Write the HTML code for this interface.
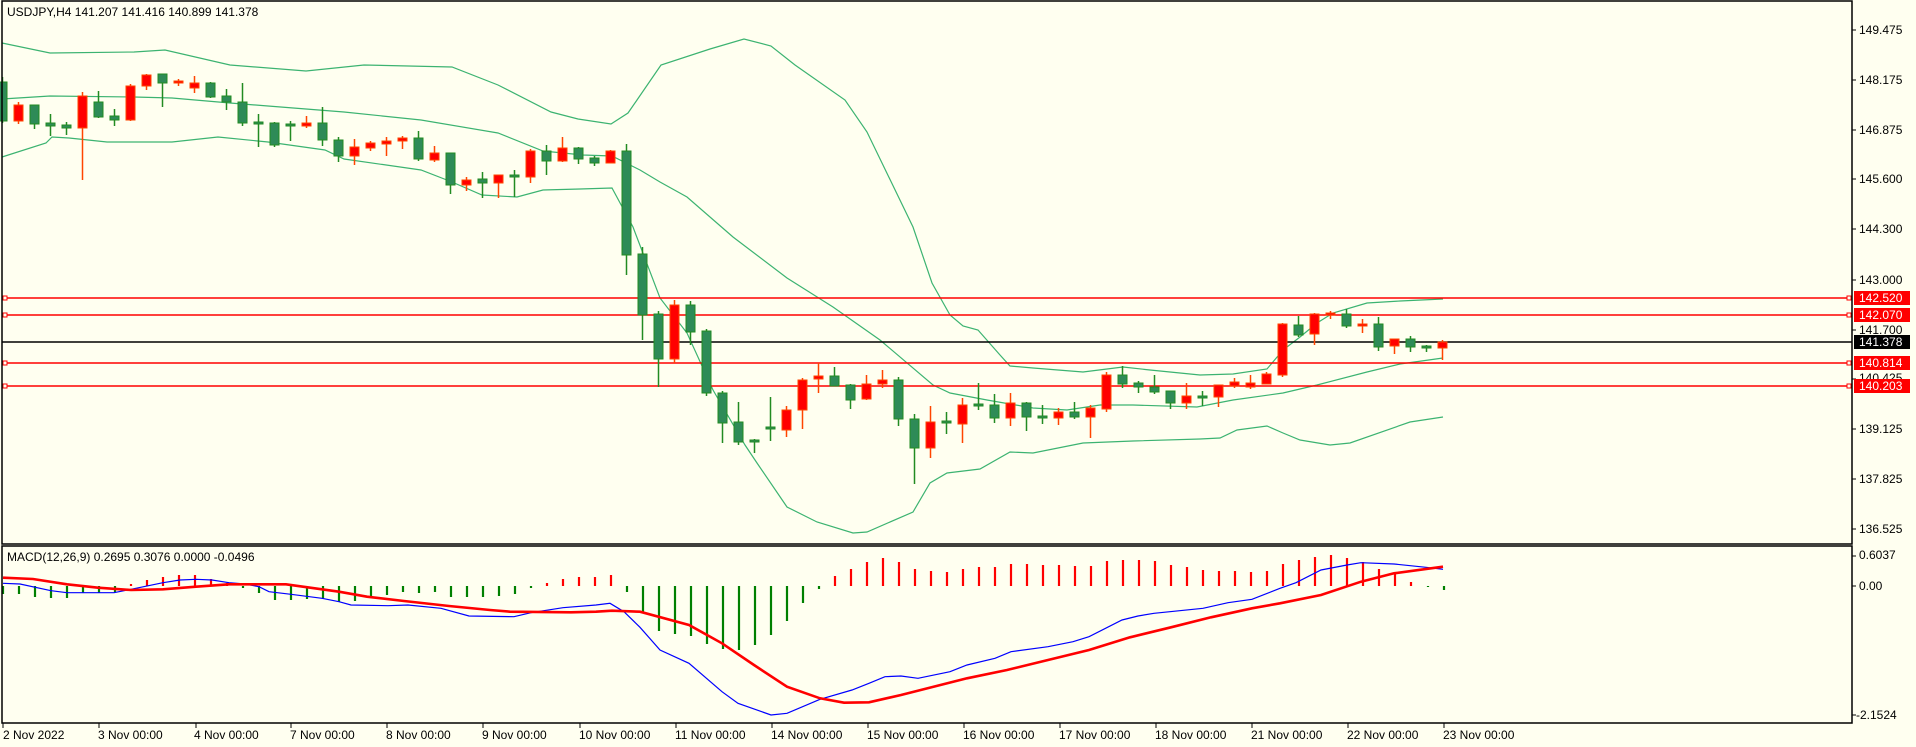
<!DOCTYPE html>
<html><head><meta charset="utf-8"><style>
html,body{margin:0;padding:0;background:#FFFFF0;}
svg{display:block;font-family:"Liberation Sans",sans-serif;font-size:12px;}
.g{fill:#2E8B57;stroke:#228B22;stroke-width:1}
.r{fill:#FF0000;stroke:#FF4500;stroke-width:1}
</style></head><body>
<svg width="1916" height="747" viewBox="0 0 1916 747" xmlns="http://www.w3.org/2000/svg">
<rect width="1916" height="747" fill="#FFFFF0"/>
<!-- bands -->
<g fill="none" stroke="#3CB371" stroke-width="1.2">
<polyline points="2,43 50,53 134,52 165,50 230,65 306,71 364,65 452,67 498,85 551,112 578,119 611,124 628,113 637,100 661,65 710,49 744,39 771,46 795,65 845,100 867,132 913,227 932,283 950,315 963,326 978,330 1000,355 1010,366 1033,368 1083,372 1123,367 1150,370 1200,375 1233,374 1267,369 1283,350 1300,337 1317,323 1333,313 1367,303 1400,301 1443,299"/>
<polyline points="2,99 50,96 134,97 172,98 230,103 268,106 344,112 421,120 498,133 543,151 583,155 612,156 640,170 660,182 687,197 733,237 787,278 833,307 880,340 933,385 950,393 987,400 1033,408 1067,410 1100,405 1133,405 1197,407 1233,400 1283,393 1317,385 1367,372 1400,364 1443,358"/>
<polyline points="2,157 46,143 52,137 69,138 107,142 172,142 218,137 268,142 325,150 344,159 421,170 452,182 482,195 517,197 543,190 580,189 612,188 633,227 660,298 687,333 713,390 745,445 757,463 787,507 817,522 853,533 867,532 913,512 930,483 947,473 980,469 1010,452 1033,453 1083,443 1133,441 1200,439 1220,438 1237,430 1267,426 1283,433 1300,440 1330,445 1350,443 1410,422 1443,417"/>
</g>
<!-- horizontal lines -->
<g stroke="#FF0000" stroke-width="1.5" fill="#FFFFF0">
<line x1="2" x2="1849" y1="298" y2="298"/>
<line x1="2" x2="1849" y1="315" y2="315"/>
<line x1="2" x2="1849" y1="363" y2="363"/>
<line x1="2" x2="1849" y1="386" y2="386"/>
<rect x="1847" y="296" width="4" height="4" stroke-width="1"/>
<rect x="1847" y="313" width="4" height="4" stroke-width="1"/>
<rect x="1847" y="361" width="4" height="4" stroke-width="1"/>
<rect x="1847" y="384" width="4" height="4" stroke-width="1"/>
<rect x="3" y="296" width="4" height="4" stroke-width="1"/>
<rect x="3" y="313" width="4" height="4" stroke-width="1"/>
<rect x="3" y="361" width="4" height="4" stroke-width="1"/>
<rect x="3" y="384" width="4" height="4" stroke-width="1"/>
</g>
<line x1="2" x2="1852" y1="342" y2="342" stroke="#000" stroke-width="1.5"/>
<!-- wicks -->
<path fill="none" stroke="#228B22" stroke-width="1.5" d="M2.5 77V123M34.5 105V129M50.5 114V136M66.5 122V135M98.5 91V118M114.5 109V126M162.5 74V107M210.5 82V98M226.5 89V110M242.5 83V126M258.5 114V147M274.5 122V147M290.5 121V141M322.5 107V146M338.5 137V162M418.5 131V161M450.5 153V194M482.5 172V198M514.5 170V197M546.5 145V175M578.5 147V164M594.5 156V166M626.5 144V275M642.5 247V340M658.5 311V387M690.5 301V345M706.5 329V396M722.5 391V443M738.5 402V445M754.5 439V453M770.5 397V441M834.5 367V386M850.5 384V409M898.5 377V426M914.5 414V484M946.5 412V434M978.5 383V410M994.5 394V423M1026.5 402V431M1042.5 405V424M1074.5 402V419M1122.5 366V388M1138.5 381V393M1154.5 375V394M1170.5 391V409M1202.5 391V406M1298.5 316V337M1346.5 309V328M1378.5 317V351M1410.5 336V352M1426.5 345V352"/>
<path fill="none" stroke="#FF4500" stroke-width="1.5" d="M18.5 102V124M82.5 92V180M130.5 84V121M146.5 74V90M178.5 79V86M194.5 76V93M306.5 116V128M354.5 139V165M370.5 141V151M386.5 137V156M402.5 136V149M434.5 146V162M466.5 177V191M498.5 175V198M530.5 149V183M562.5 137V162M610.5 150V163M674.5 300V363M786.5 406V437M802.5 378V429M818.5 363V393M866.5 375V400M882.5 370V388M930.5 406V458M962.5 398V443M1010.5 393V426M1058.5 408V425M1090.5 405V438M1106.5 372V412M1186.5 383V409M1218.5 385V407M1234.5 378V388M1250.5 375V389M1266.5 372V384M1282.5 323V377M1314.5 313V345M1330.5 311V319M1362.5 319V333M1394.5 339V354M1442.5 340V360"/>
<!-- bodies -->
<g class="g">
<rect x="-2" y="82" width="9" height="39"/><rect x="30" y="105" width="9" height="19"/><rect x="46" y="123" width="9" height="3"/><rect x="62" y="125" width="9" height="3"/><rect x="94" y="102" width="9" height="15"/><rect x="110" y="116" width="9" height="4"/><rect x="158" y="74" width="9" height="9"/><rect x="206" y="83" width="9" height="14"/><rect x="222" y="96" width="9" height="6"/><rect x="238" y="102" width="9" height="21"/><rect x="254" y="122" width="9" height="2"/><rect x="270" y="123" width="9" height="22"/><rect x="286" y="124" width="9" height="2"/><rect x="318" y="123" width="9" height="17"/><rect x="334" y="140" width="9" height="16"/><rect x="414" y="138" width="9" height="21"/><rect x="446" y="153" width="9" height="32"/><rect x="478" y="179" width="9" height="4"/><rect x="510" y="175" width="9" height="2"/><rect x="542" y="151" width="9" height="10"/><rect x="574" y="148" width="9" height="11"/><rect x="590" y="158" width="9" height="5"/><rect x="622" y="151" width="9" height="104"/><rect x="638" y="254" width="9" height="61"/><rect x="654" y="314" width="9" height="45"/><rect x="686" y="305" width="9" height="27"/><rect x="702" y="331" width="9" height="62"/><rect x="718" y="393" width="9" height="30"/><rect x="734" y="422" width="9" height="20"/><rect x="750" y="440" width="9" height="2"/><rect x="766" y="427" width="9" height="2"/><rect x="830" y="376" width="9" height="10"/><rect x="846" y="385" width="9" height="15"/><rect x="894" y="380" width="9" height="39"/><rect x="910" y="419" width="9" height="29"/><rect x="942" y="421" width="9" height="2"/><rect x="974" y="404" width="9" height="2"/><rect x="990" y="405" width="9" height="13"/><rect x="1022" y="403" width="9" height="14"/><rect x="1038" y="416" width="9" height="2"/><rect x="1070" y="412" width="9" height="5"/><rect x="1118" y="375" width="9" height="9"/><rect x="1134" y="383" width="9" height="4"/><rect x="1150" y="387" width="9" height="5"/><rect x="1166" y="391" width="9" height="12"/><rect x="1198" y="396" width="9" height="2"/><rect x="1294" y="325" width="9" height="10"/><rect x="1342" y="314" width="9" height="12"/><rect x="1374" y="324" width="9" height="23"/><rect x="1406" y="339" width="9" height="8"/><rect x="1422" y="346" width="9" height="2"/>
</g>
<g class="r">
<rect x="14" y="105" width="9" height="16"/><rect x="78" y="96" width="9" height="32"/><rect x="126" y="86" width="9" height="34"/><rect x="142" y="75" width="9" height="11"/><rect x="174" y="81" width="9" height="2"/><rect x="190" y="83" width="9" height="5"/><rect x="302" y="123" width="9" height="3"/><rect x="350" y="147" width="9" height="9"/><rect x="366" y="143" width="9" height="5"/><rect x="382" y="141" width="9" height="3"/><rect x="398" y="138" width="9" height="3"/><rect x="430" y="153" width="9" height="7"/><rect x="462" y="180" width="9" height="5"/><rect x="494" y="175" width="9" height="8"/><rect x="526" y="151" width="9" height="26"/><rect x="558" y="148" width="9" height="13"/><rect x="606" y="151" width="9" height="12"/><rect x="670" y="305" width="9" height="54"/><rect x="782" y="410" width="9" height="20"/><rect x="798" y="380" width="9" height="30"/><rect x="814" y="376" width="9" height="3"/><rect x="862" y="384" width="9" height="15"/><rect x="878" y="380" width="9" height="4"/><rect x="926" y="422" width="9" height="26"/><rect x="958" y="405" width="9" height="19"/><rect x="1006" y="403" width="9" height="15"/><rect x="1054" y="412" width="9" height="6"/><rect x="1086" y="408" width="9" height="9"/><rect x="1102" y="375" width="9" height="34"/><rect x="1182" y="396" width="9" height="7"/><rect x="1214" y="385" width="9" height="12"/><rect x="1230" y="382" width="9" height="4"/><rect x="1246" y="383" width="9" height="4"/><rect x="1262" y="374" width="9" height="10"/><rect x="1278" y="324" width="9" height="51"/><rect x="1310" y="314" width="9" height="20"/><rect x="1326" y="313" width="9" height="2"/><rect x="1358" y="324" width="9" height="2"/><rect x="1390" y="339" width="9" height="7"/><rect x="1438" y="342" width="9" height="6"/>
</g>
<!-- MACD histogram -->
<path fill="none" stroke="#008000" stroke-width="2.2" d="M3 586V594M19 586V594M35 586V597M51 586V598M67 586V598M83 586V593M99 586V593M115 586V592M243 586V588M259 586V593M275 586V600M291 586V600M307 586V599M323 586V599M339 586V602M355 586V601M371 586V597M387 586V595M403 586V592M419 586V593M435 586V592M451 586V597M467 586V597M483 586V597M499 586V596M515 586V594M531 586V588M627 586V592M643 586V612M659 586V631M675 586V634M691 586V636M707 586V644M723 586V649M739 586V650M755 586V645M771 586V635M787 586V621M803 586V603M819 586V589M1428 586V587M1444 586V590"/>
<path fill="none" stroke="#FF0000" stroke-width="2.2" d="M131 586V584M147 586V580M163 586V577M179 586V575M195 586V575M211 586V579M227 586V583M547 586V583M563 586V579M579 586V577M595 586V577M611 586V575M835 586V576M851 586V569M867 586V562M883 586V558M899 586V562M915 586V569M931 586V571M947 586V572M963 586V569M979 586V567M995 586V567M1011 586V564M1027 586V564M1043 586V565M1059 586V565M1075 586V566M1091 586V566M1107 586V561M1123 586V560M1139 586V560M1155 586V561M1171 586V565M1187 586V567M1203 586V570M1219 586V571M1235 586V571M1251 586V572M1267 586V571M1283 586V564M1299 586V560M1315 586V557M1331 586V555M1347 586V558M1363 586V562M1379 586V569M1395 586V573M1411 586V582"/>
<polyline fill="none" stroke="#0000FF" stroke-width="1.2" points="3,583.3 20,584 51,590.7 67,592.7 114,592.7 131,589.3 163,582.7 180,580 196,579.3 212,580 229,582.7 245,584 259,586.7 269,591.7 291,594.3 322,598.3 339,601.7 351,605 388,605.7 408,605 441,608.3 469,616 514,616.7 531,612.7 563,607.7 596,605 610,603.3 624,611.7 640,627.3 660,650 689,663.3 722,691.7 738,703.3 771,715 787,713.3 820,699.3 852,690 869,683.3 885,676.7 901,676 918,678.3 950,671.7 967,665 995,658.3 1011,651.7 1048,646.7 1073,641.7 1089,636.7 1122,620 1138,616 1154,613.3 1203,608.3 1228,602.7 1252,599.3 1280,588.3 1296,582.7 1321,570 1347,565 1361,562.7 1394,564 1426,567.3 1443,569.3"/>
<polyline fill="none" stroke="#FF0000" stroke-width="2.6" points="3,577.7 33,579 67,584.3 98,587.7 131,590 163,589.3 196,586.7 229,584.3 286,584.3 339,591.7 367,596.7 404,601 449,606 490,610 510,611.7 571,612.3 596,611.7 612,610.7 640,611.7 689,625 722,643.3 754,665 787,686.7 820,698.3 844,702.7 869,702.3 901,695 967,678.3 1007,670 1048,660 1089,650 1130,637.3 1171,627.3 1211,617.3 1252,608.3 1280,603.3 1321,595 1361,581.7 1394,573.3 1443,566.7"/>
<!-- frames -->
<g fill="none" stroke="#000" stroke-width="1.5">
<rect x="2" y="1" width="1850" height="543"/>
<rect x="2" y="546" width="1850" height="177"/>
</g>
<!-- price axis -->
<g stroke="#000" stroke-width="1">
<path d="M1852 30H1856M1852 80H1856M1852 130H1856M1852 179H1856M1852 229H1856M1852 280H1856M1852 330H1856M1852 379H1856M1852 429H1856M1852 479H1856M1852 529H1856M1852 556H1856M1852 586H1856M1852 715H1856M3 723V728M99 723V728M196 723V728M291 723V728M387 723V728M483 723V728M580 723V728M676 723V728M772 723V728M868 723V728M964 723V728M1060 723V728M1156 723V728M1252 723V728M1348 723V728M1444 723V728"/>
</g>
<g fill="#000" dominant-baseline="middle">
<text x="1859" y="31">149.475</text>
<text x="1859" y="81">148.175</text>
<text x="1859" y="131">146.875</text>
<text x="1859" y="180">145.600</text>
<text x="1859" y="230">144.300</text>
<text x="1859" y="281">143.000</text>
<text x="1859" y="331">141.700</text>
<text x="1859" y="379">140.425</text>
<text x="1859" y="430">139.125</text>
<text x="1859" y="480">137.825</text>
<text x="1859" y="530">136.525</text>
<text x="1859" y="556">0.6037</text>
<text x="1859" y="587">0.00</text>
<text x="1856" y="716">-2.1524</text>
</g>
<rect x="1854" y="291" width="56" height="14" fill="#FF0000"/>
<rect x="1854" y="308" width="56" height="14" fill="#FF0000"/>
<rect x="1854" y="335" width="56" height="14" fill="#000"/>
<rect x="1854" y="356" width="56" height="14" fill="#FF0000"/>
<rect x="1854" y="379" width="56" height="14" fill="#FF0000"/>
<g fill="#fff" dominant-baseline="middle">
<text x="1859" y="299">142.520</text>
<text x="1859" y="316">142.070</text>
<text x="1859" y="343">141.378</text>
<text x="1859" y="364">140.814</text>
<text x="1859" y="387">140.203</text>
</g>
<g fill="#000" dominant-baseline="middle">
<text x="7" y="13">USDJPY,H4  141.207 141.416 140.899 141.378</text>
<text x="7" y="558">MACD(12,26,9) 0.2695 0.3076 0.0000 -0.0496</text>
<text x="3" y="736">2 Nov 2022</text>
<text x="98" y="736">3 Nov 00:00</text>
<text x="194" y="736">4 Nov 00:00</text>
<text x="290" y="736">7 Nov 00:00</text>
<text x="386" y="736">8 Nov 00:00</text>
<text x="482" y="736">9 Nov 00:00</text>
<text x="579" y="736">10 Nov 00:00</text>
<text x="675" y="736">11 Nov 00:00</text>
<text x="771" y="736">14 Nov 00:00</text>
<text x="867" y="736">15 Nov 00:00</text>
<text x="963" y="736">16 Nov 00:00</text>
<text x="1059" y="736">17 Nov 00:00</text>
<text x="1155" y="736">18 Nov 00:00</text>
<text x="1251" y="736">21 Nov 00:00</text>
<text x="1347" y="736">22 Nov 00:00</text>
<text x="1443" y="736">23 Nov 00:00</text>
</g>
</svg>
</body></html>
